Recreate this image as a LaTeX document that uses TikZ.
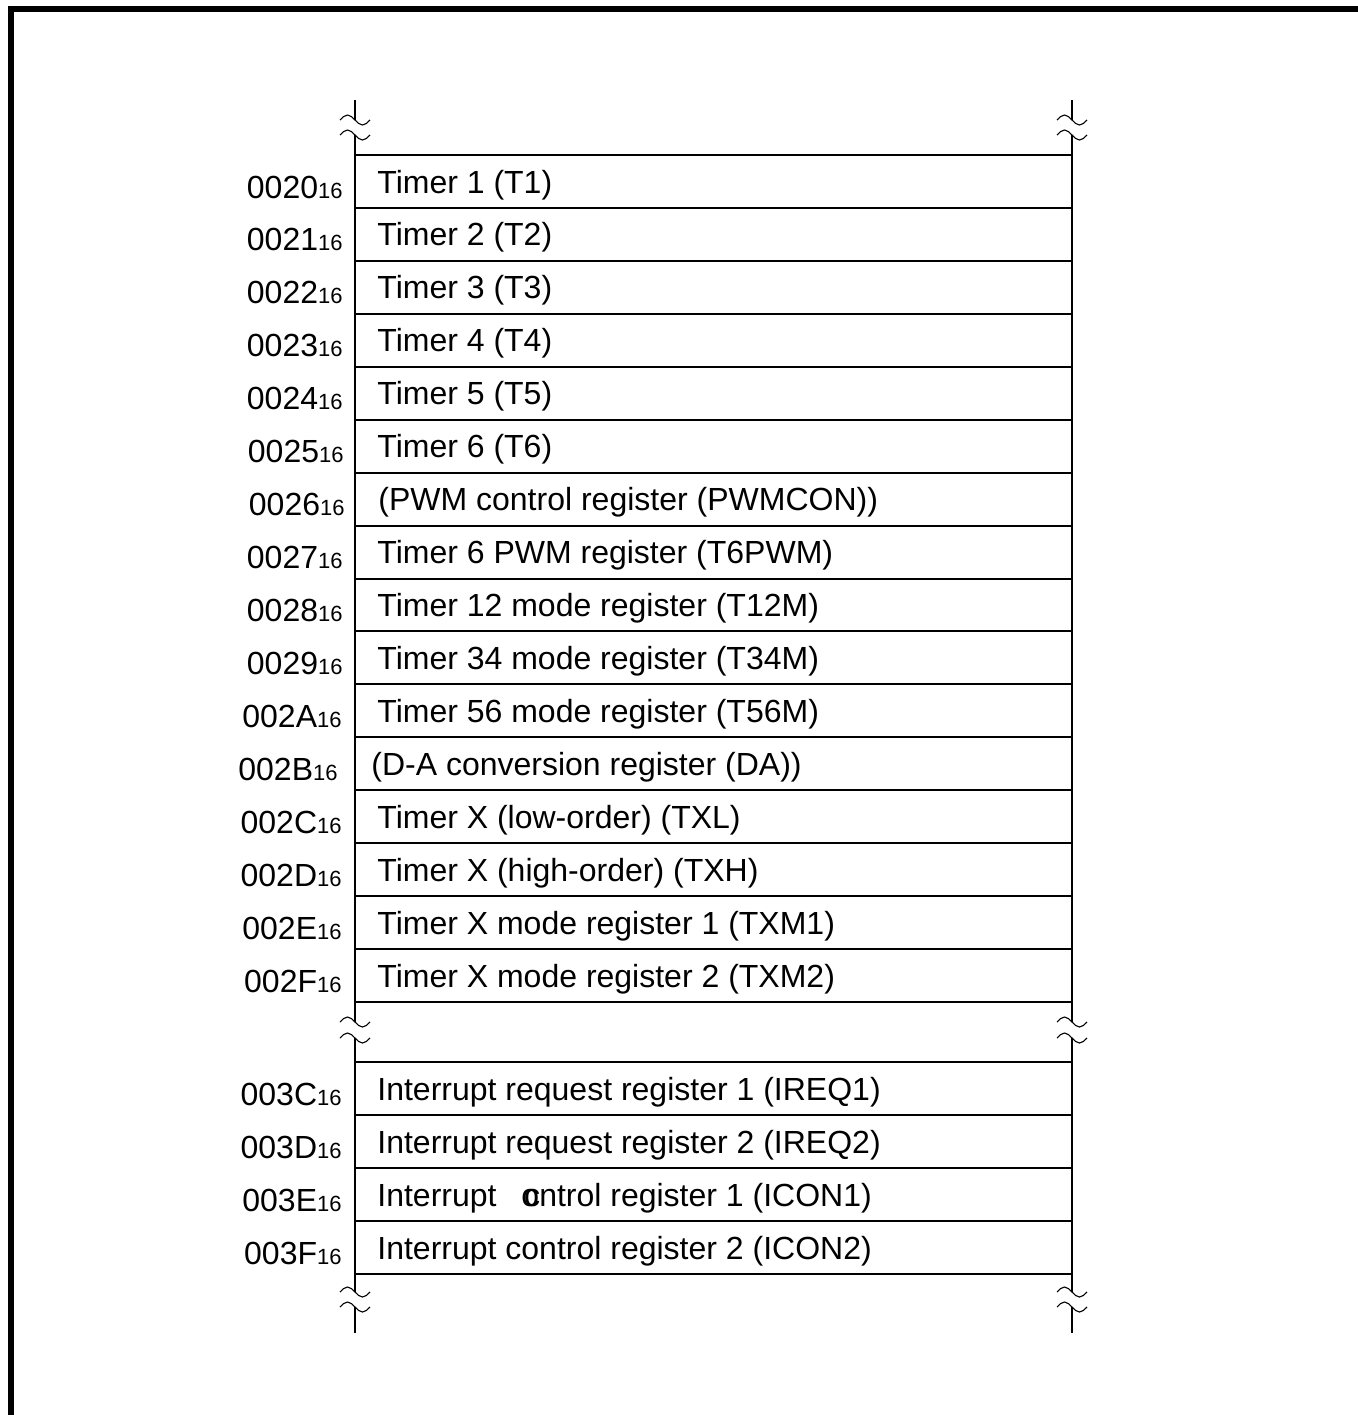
\documentclass[tikz,border=0pt]{standalone}
\usepackage{fontspec}
\setmainfont{Liberation Sans}
\begin{document}
\begin{tikzpicture}[x=0.5pt,y=-0.5pt,
  rowline/.style={line width=1pt},
  axisline/.style={line width=1pt},
  brkline/.style={line width=0.55pt},
  frameline/.style={line width=2.8pt},
  regtext/.style={anchor=base west,inner sep=0pt,font=\fontsize{16}{18}\selectfont},
  addrtext/.style={anchor=base east,inner sep=0pt,font=\fontsize{16}{18}\selectfont},
  brk/.pic={\draw[brkline] (-15,0) sin (-7.5,-5) cos (0,0) sin (7.5,5) cos (15,0);}
]
\useasboundingbox (0,0) rectangle (1358,1415);
% frame
\draw[frameline] (10.7,1420) -- (10.7,9) -- (1365,9);

% horizontal lines, upper block
\foreach \i in {0,...,16}{
  \coordinate (ul\i) at (355,{155+52.94*\i});
  \coordinate (ur\i) at (1072,{155+52.94*\i});
  \draw[rowline] (ul\i) -- (ur\i);
}
% lower block
\foreach \j in {0,...,4}{
  \coordinate (ll\j) at (355,{1062+53*\j});
  \coordinate (lr\j) at (1072,{1062+53*\j});
  \draw[rowline] (ll\j) -- (lr\j);
}

% vertical lines with breaks
\foreach \x/\s in {355/L,1072/R}{
  \coordinate (a\s) at (\x,100);
  \coordinate (b\s) at (\x,120);
  \coordinate (c\s) at (\x,135);
  \coordinate (d\s) at (\x,1022);
  \coordinate (e\s) at (\x,1038);
  \coordinate (f\s) at (\x,1292);
  \coordinate (g\s) at (\x,1307);
  \coordinate (h\s) at (\x,1333);
  \draw[axisline] (a\s) -- (b\s);
  \draw[axisline] (c\s) -- (d\s);
  \draw[axisline] (e\s) -- (f\s);
  \draw[axisline] (g\s) -- (h\s);
  \pic at (b\s) {brk};
  \pic at (c\s) {brk};
  \pic at (d\s) {brk};
  \pic at (e\s) {brk};
  \pic at (f\s) {brk};
  \pic at (g\s) {brk};
}

% upper rows text
\foreach \i/\ad/\tx/\xt/\xa in {
  0/0020/{Timer 1 (T1)}/377/343,
  1/0021/{Timer 2 (T2)}/377/343,
  2/0022/{Timer 3 (T3)}/377/343,
  3/0023/{Timer 4 (T4)}/377/343,
  4/0024/{Timer 5 (T5)}/377/343,
  5/0025/{Timer 6 (T6)}/377/344,
  6/0026/{(PWM control register (PWMCON))}/378/345,
  7/0027/{Timer 6 PWM register (T6PWM)}/377/343,
  8/0028/{Timer 12 mode register (T12M)}/377/343,
  9/0029/{Timer 34 mode register (T34M)}/377/343,
  10/002A/{Timer 56 mode register (T56M)}/377/342,
  11/002B/{(D-A conversion register (DA))}/371/338,
  12/002C/{Timer X (low-order) (TXL)}/377/342,
  13/002D/{Timer X (high-order) (TXH)}/377/342,
  14/002E/{Timer X mode register 1 (TXM1)}/377/342,
  15/002F/{Timer X mode register 2 (TXM2)}/377/342}{
  \node[regtext] (reg\i) at (\xt,{155+52.94*\i+38}) {\tx};
  \node[addrtext] (adr\i) at (\xa,{155+52.94*\i+43}) {\ad{\fontsize{11}{12}\selectfont 16}};
}

% lower rows text
\node[regtext] (lreg0) at (377,1100) {Interrupt request register 1 (IREQ1)};
\node[regtext] (lreg1) at (377,1153) {Interrupt request register 2 (IREQ2)};
\node[regtext] (lreg2) at (377,1206) {Interrupt \hphantom{c}\makebox[0pt][l]{\hspace{1.3pt}c}ontrol register 1 (ICON1)};
\node[regtext] (lreg3) at (377,1259) {Interrupt control register 2 (ICON2)};
\foreach \j/\ad in {0/003C,1/003D,2/003E,3/003F}{
  \node[addrtext] (ladr\j) at (342,{1062+53*\j+43}) {\ad{\fontsize{11}{12}\selectfont 16}};
}
\end{tikzpicture}
\end{document}
